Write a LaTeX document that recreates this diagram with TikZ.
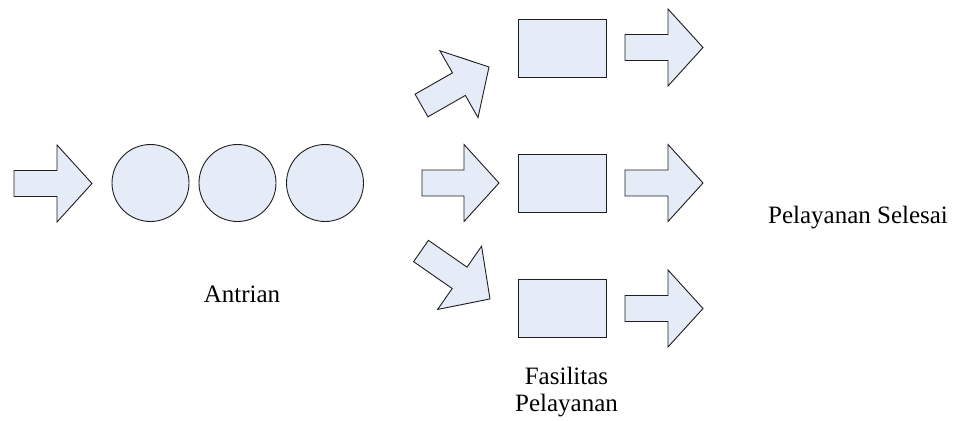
\documentclass[tikz,border=0pt]{standalone}
\usepackage{fontspec}
\setmainfont{Liberation Serif}
\definecolor{boxfill}{RGB}{230,236,247}
\definecolor{boxline}{RGB}{30,30,30}
\tikzset{
  shapeline/.style={draw=boxline, fill=boxfill, line width=0.9pt, line join=miter},
  ball/.style={shapeline, circle, minimum size=77pt, inner sep=0pt},
  server/.style={shapeline, rectangle, minimum width=88pt, minimum height=58pt, inner sep=0pt},
  lbl/.style={font=\fontsize{25}{27}\selectfont, inner sep=0pt, align=center},
  pics/blockarrow/.style n args={2}{code={%
    \draw[shapeline] (0,-13) -- ({#1-#2},-13) -- ({#1-#2},-38.5) -- (#1,0)
      -- ({#1-#2},38.5) -- ({#1-#2},13) -- (0,13) -- cycle;}}
}
\begin{document}
\begin{tikzpicture}[x=1pt,y=-1pt]
\useasboundingbox (0,0) rectangle (960,420);
% incoming arrow
\pic at (14,183.5) {blockarrow={78}{35}};
% queue
\node[ball] (q1) at (150.5,183) {};
\node[ball] (q2) at (237.5,183) {};
\node[ball] (q3) at (325,183) {};
% arrows to servers
\pic[rotate=29.7] at (421.5,105.5) {blockarrow={77.7}{34.6}};
\pic at (422,183) {blockarrow={77}{35}};
\pic[rotate=-34.8] at (421,251) {blockarrow={84}{37}};
% servers
\node[server] (s1) at (562,48) {};
\node[server] (s2) at (562,183) {};
\node[server] (s3) at (562,308.5) {};
% outgoing arrows
\pic at (625,47.5) {blockarrow={78}{35}};
\pic at (625,183) {blockarrow={78}{35}};
\pic at (625,308.5) {blockarrow={78}{35}};
% labels
\node[lbl, anchor=base] (antrian) at (242,302) {Antrian};
\node[lbl, anchor=base] (fas) at (566.5,411) {Fasilitas\\Pelayanan};
\node[lbl, anchor=base] (selesai) at (858,223) {Pelayanan Selesai};
\end{tikzpicture}
\end{document}
